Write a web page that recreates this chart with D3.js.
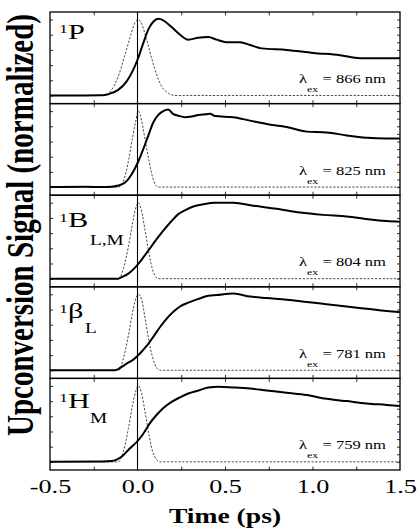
<!DOCTYPE html>
<html>
<head>
<meta charset="utf-8">
<script src="https://cdn.jsdelivr.net/npm/d3@7"></script>
<style>
  body { margin: 0; background: #fff; }
  text { font-family: "Liberation Serif", "Times New Roman", serif; fill: #000; }
</style>
</head>
<body>
<div id="chart"></div>
<script>
// ---- data ---------------------------------------------------------------
var xTickLabels = [-0.5, 0.0, 0.5, 1.0, 1.5];
var wavelengths = [866, 825, 804, 781, 759];
var stateNames = ["P", "B", "\u03b2", "H"];  // panel 2 has no label

// upconversion signal, [time (ps), normalized signal]
var signal866 = [[-0.5,0],[-0.3,0],[-0.2,0.002],[-0.167,0.017],[-0.11,0.074],[-0.062,0.185],[-0.024,0.34],[0.005,0.5],[0.033,0.69],[0.062,0.87],[0.09,0.97],[0.119,1.01],[0.147,0.99],[0.195,0.9],[0.243,0.8],[0.29,0.735],[0.347,0.76],[0.405,0.77],[0.452,0.735],[0.519,0.7],[0.586,0.7],[0.643,0.665],[0.71,0.62],[0.852,0.6],[1.005,0.56],[1.157,0.53],[1.271,0.49],[1.386,0.49],[1.5,0.49]];
var signal825 = [[-0.5,0],[-0.3,0.005],[-0.2,0],[-0.148,0.003],[-0.11,0.02],[-0.071,0.06],[-0.033,0.17],[0.005,0.34],[0.033,0.5],[0.062,0.68],[0.09,0.85],[0.119,0.95],[0.147,1.0],[0.176,1.02],[0.205,0.96],[0.233,0.94],[0.271,0.92],[0.31,0.93],[0.348,0.95],[0.395,0.96],[0.414,0.965],[0.443,0.935],[0.548,0.92],[0.643,0.875],[0.738,0.83],[0.852,0.79],[0.967,0.73],[1.081,0.72],[1.195,0.68],[1.31,0.65],[1.424,0.64],[1.5,0.64]];
var signal804 = [[-0.5,0],[-0.11,0],[-0.09,0.02],[-0.052,0.066],[-0.014,0.145],[0.014,0.22],[0.043,0.31],[0.081,0.43],[0.119,0.55],[0.157,0.66],[0.195,0.76],[0.233,0.85],[0.271,0.9],[0.319,0.95],[0.376,0.98],[0.443,1.0],[0.548,1.0],[0.662,0.96],[0.795,0.92],[0.929,0.87],[1.06,0.84],[1.195,0.82],[1.33,0.78],[1.424,0.76],[1.5,0.75]];
var signal781 = [[-0.5,0],[-0.129,0],[-0.1,0.03],[-0.062,0.087],[-0.024,0.14],[0.014,0.22],[0.052,0.32],[0.09,0.44],[0.129,0.57],[0.167,0.68],[0.205,0.77],[0.243,0.84],[0.29,0.89],[0.348,0.94],[0.405,0.98],[0.452,0.99],[0.548,1.01],[0.643,0.97],[0.738,0.95],[0.852,0.93],[0.967,0.9],[1.08,0.87],[1.195,0.84],[1.31,0.81],[1.424,0.78],[1.5,0.765]];
var signal759 = [[-0.5,0],[-0.2,0.005],[-0.148,0.01],[-0.119,0.03],[-0.081,0.088],[-0.043,0.18],[-0.005,0.26],[0.033,0.37],[0.071,0.51],[0.11,0.62],[0.148,0.71],[0.195,0.79],[0.243,0.85],[0.29,0.9],[0.348,0.94],[0.405,0.98],[0.462,0.99],[0.548,0.98],[0.643,0.965],[0.738,0.94],[0.852,0.91],[0.967,0.88],[1.08,0.83],[1.195,0.8],[1.31,0.77],[1.424,0.75],[1.5,0.735]];

// cross-correlation (dashed)
var xcorr866 = [[-0.5,0],[-0.186,0],[-0.148,0.074],[-0.11,0.25],[-0.071,0.54],[-0.043,0.76],[-0.014,0.96],[0.005,1.0],[0.024,0.94],[0.052,0.735],[0.081,0.49],[0.11,0.27],[0.138,0.12],[0.176,0.03],[0.214,0],[1.5,0]];
var xcorr825 = [[-0.5,0],[-0.11,0],[-0.081,0.075],[-0.052,0.34],[-0.03,0.63],[-0.01,0.87],[0.005,1.0],[0.024,0.87],[0.043,0.63],[0.066,0.34],[0.09,0.1],[0.119,0],[1.5,0]];
var xcorr804 = [[-0.5,0],[-0.106,0],[-0.081,0.13],[-0.052,0.42],[-0.03,0.71],[-0.01,0.93],[0.005,1.0],[0.024,0.88],[0.043,0.64],[0.066,0.33],[0.09,0.09],[0.119,0],[1.5,0]];
var xcorr781 = [[-0.5,0],[-0.106,0],[-0.081,0.15],[-0.052,0.46],[-0.03,0.74],[-0.01,0.94],[0.005,1.0],[0.024,0.93],[0.043,0.69],[0.066,0.38],[0.09,0.14],[0.129,0],[1.5,0]];
var xcorr759 = [[-0.5,0],[-0.11,0],[-0.081,0.13],[-0.052,0.44],[-0.03,0.73],[-0.01,0.93],[0.005,1.0],[0.024,0.9],[0.043,0.66],[0.066,0.35],[0.09,0.11],[0.129,0],[1.5,0]];

var signals = [signal866, signal825, signal804, signal781, signal759];
var xcorrs = [xcorr866, xcorr825, xcorr804, xcorr781, xcorr759];

// ---- layout -----------------------------------------------------------------
var width = 417, height = 531;
var plotLeft = 50, plotRight = 400, plotTop = 12, plotBottom = 470;
var panelH = (plotBottom - plotTop) / 5;
var stretch = 1.38;   // the figure's text is wider than it is tall

function translate(x, y){ return "translate(" + x + "," + y + ")"; }

var x = d3.scaleLinear().domain([-0.5, 1.5]).range([plotLeft, plotRight]);

var svg = d3.select("#chart").append("svg")
    .attr("width", width)
    .attr("height", height);

function label(g, txt, px, py, size, opts){
    opts = opts || {};
    return g.append("text")
        .attr("transform", translate(px, py) + " scale(" + stretch + ",1)")
        .attr("text-anchor", opts.anchor || "start")
        .attr("font-size", size)
        .attr("font-weight", opts.bold ? "bold" : "normal")
        .text(txt);
}

function panelTop(i){ return plotTop + i * panelH; }

signals.forEach(function(sig, i){
    var y0 = panelTop(i);
    var y = d3.scaleLinear().domain([-0.107, 1.099]).range([y0 + panelH, y0]);
    var g = svg.append("g");

    var line = d3.line()
        .curve(d3.curveMonotoneX)
        .x(function(d){ return x(d[0]); })
        .y(function(d){ return y(d[1]); });

    g.append("path")
        .attr("d", line(xcorrs[i]))
        .attr("fill", "none")
        .attr("stroke", "#333")
        .attr("stroke-width", 0.9)
        .attr("stroke-dasharray", "2.2,1.6");

    g.append("path")
        .attr("d", line(sig))
        .attr("fill", "none")
        .attr("stroke", "#000")
        .attr("stroke-width", 2)
        .attr("stroke-linejoin", "round");

    // inward ticks on all four sides
    var xt = [-0.25, 0.25, 0.5, 0.75, 1.0, 1.25];
    g.append("g").attr("transform", translate(0, y0))
        .call(d3.axisTop(x).tickValues(xt).tickSize(-3.5).tickFormat(""));
    g.append("g").attr("transform", translate(0, y0 + panelH))
        .call(d3.axisBottom(x).tickValues(xt).tickSize(-3.5).tickFormat(""));
    g.append("g").attr("transform", translate(plotLeft, 0))
        .call(d3.axisLeft(y).tickValues([0, 0.2, 0.4, 0.6, 0.8, 1.0]).tickSize(-3).tickFormat(""));
    g.append("g").attr("transform", translate(plotRight, 0))
        .call(d3.axisRight(y).tickValues([0, 0.1, 0.2, 0.3, 0.4, 0.5, 0.6, 0.7, 0.8, 0.9, 1.0]).tickSize(-3).tickFormat(""));
    g.selectAll(".domain").remove();
    g.selectAll(".tick line").attr("stroke", "#000").attr("stroke-width", 0.8);

    g.append("rect")
        .attr("x", plotLeft).attr("y", y0)
        .attr("width", plotRight - plotLeft).attr("height", panelH)
        .attr("fill", "none").attr("stroke", "#000").attr("stroke-width", 1.3);

    // lambda_ex label
    label(g, "\u03bb", 299, y0 + 71, 12);
    label(g, "ex", 307, y0 + 80, 8.5);
    label(g, "= " + wavelengths[i] + " nm", 386, y0 + 71, 12, {anchor: "end"});
});

// state labels
label(svg, "1", 59, panelTop(0) + 21, 13);
label(svg, stateNames[0], 68, panelTop(0) + 27, 22);
label(svg, "1", 59, panelTop(2) + 27, 13);
label(svg, stateNames[1], 68, panelTop(2) + 32, 22);
label(svg, "L,M", 90, panelTop(2) + 50, 14);
label(svg, "1", 59, panelTop(3) + 26, 13);
label(svg, stateNames[2], 68, panelTop(3) + 31, 22);
label(svg, "L", 85, panelTop(3) + 46, 14);
label(svg, "1", 59, panelTop(4) + 24, 13);
label(svg, stateNames[3], 68, panelTop(4) + 30, 22);
label(svg, "M", 90, panelTop(4) + 45, 14);

// time-zero line
svg.append("line")
    .attr("x1", x(0)).attr("x2", x(0))
    .attr("y1", plotTop).attr("y2", plotBottom)
    .attr("stroke", "#000").attr("stroke-width", 1.1);

// x tick labels
var xl = svg.append("g").attr("transform", translate(0, plotBottom))
    .call(d3.axisBottom(x).tickValues(xTickLabels).tickSize(0)
        .tickFormat(function(d){ return d.toFixed(1); }));
xl.select(".domain").remove();
xl.selectAll("text")
    .attr("font-size", 19)
    .attr("y", 23).attr("dy", 0)
    .attr("transform", "scale(" + stretch + ",1)");

// axis titles
label(svg, "Time (ps)", 225, 523, 20, {anchor: "middle", bold: true});
svg.append("text")
    .attr("transform", translate(33, 225) + " scale(1.3,1) rotate(-90)")
    .attr("text-anchor", "middle")
    .attr("font-size", 29)
    .attr("font-weight", "bold")
    .text("Upconversion Signal (normalized)");
</script>
</body>
</html>
